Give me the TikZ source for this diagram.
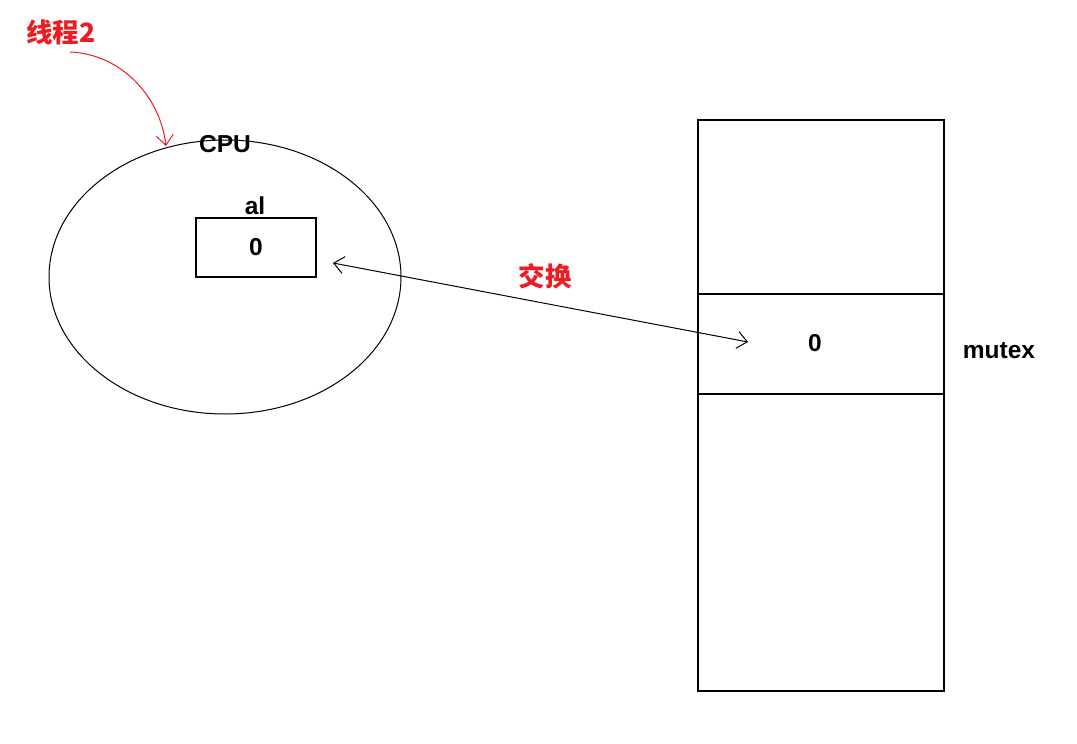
\documentclass[tikz,border=0pt]{standalone}
\usepackage{fontspec}
\setmainfont{Liberation Sans}
\newfontfamily\cjk{Noto Sans CJK SC}
\usetikzlibrary{arrows.meta,shapes.geometric,positioning}
\definecolor{paintred}{RGB}{237,28,36}

\begin{document}
\begin{tikzpicture}[x=1pt,y=-1pt,>={Straight Barb[length=10pt,width=17pt]},
    font=\fontsize{24.5}{28}\selectfont\bfseries]
  \useasboundingbox (0,0) rectangle (1077,744);
  % CPU with register al
  \node[draw, ellipse, line width=1pt, minimum width=352pt, minimum height=274pt] (cpu) at (225,277) {};
  \node (cpulbl) at (225,144) {CPU};
  \node[draw, line width=1.6pt, minimum width=120pt, minimum height=59pt] (al) at (256,247.5) {0};
  \node (allbl) at (255,206) {al};
  % memory
  \draw[line width=1.4pt] (698,120) rectangle (944,691);
  \node[draw, line width=1.4pt, minimum width=246pt, minimum height=100pt] (cell) at (821,344) {};
  \node (memval) at (815,343) {0};
  \node (mutex) at (999,351) {mutex};
  % exchange
  \coordinate (swapL) at (333,263);
  \coordinate (swapR) at (748,342);
  \draw[<->, line width=1pt] (swapL) -- (swapR);
  \node[text=paintred, font=\cjk\fontsize{26.5}{30}\selectfont\bfseries] (swap) at (545,276) {交换};
  % thread 2
  \node[text=paintred, font=\cjk\fontsize{26.5}{30}\selectfont\bfseries] (thr) at (61,32) {线程2};
  \coordinate (curveS) at (70,52);
  \coordinate (curveE) at (166,146);
  \draw[->, paintred, line width=1pt] (curveS) .. controls (120,54) and (160,95) .. (curveE);
\end{tikzpicture}
\end{document}
